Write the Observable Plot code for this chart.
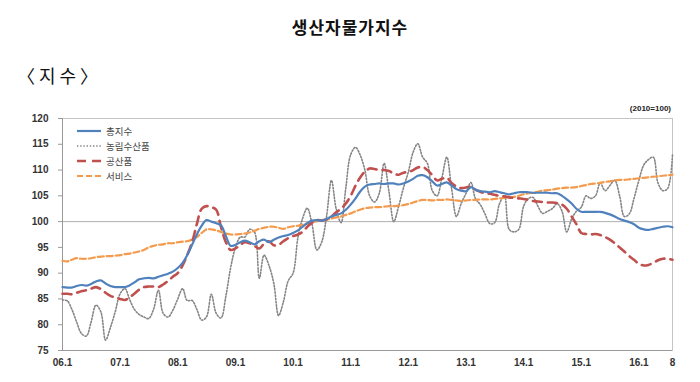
<!DOCTYPE html>
<html>
<head>
<meta charset="utf-8">
<script src="https://cdn.jsdelivr.net/npm/d3@7"></script>
<script src="https://cdn.jsdelivr.net/npm/@observablehq/plot@0.6"></script>
<style>
  html, body { margin: 0; padding: 0; background: #fff; }
  #wrap { position: relative; width: 700px; height: 382px; overflow: hidden; }
  .title { position: absolute; left: 0; width: 700px; top: 14px; text-align: center; font: 700 17px "Noto Sans CJK KR"; color: #111; letter-spacing: 1px; }
  .sub { position: absolute; left: 17px; top: 62px; font: 400 18px "Noto Sans CJK KR"; color: #111; letter-spacing: 4px; }
  .unit { position: absolute; right: 29px; top: 104px; font: 700 8px "Liberation Sans"; color: #222; }
  #chart { position: absolute; left: 0; top: 100px; }
  .legend { position: absolute; left: 77px; top: 123px; font: 400 9.5px "Noto Sans CJK KR"; color: #444; }
  .legend div { height: 15px; display: flex; align-items: center; }
  .legend svg { margin-right: 5px; }
</style>
</head>
<body>
<div id="wrap">
  <div class="title">생산자물가지수</div>
  <div class="sub">〈지수〉</div>
  <div id="chart"></div>
  <div class="unit">(2010=100)</div>
  <div class="legend" id="legend"></div>
</div>
<script>
// Series names
const seriesNames = ["총지수", "농림수산품", "공산품", "서비스"];
// Monthly, 2006.1 – 2016.8
const startYear = 2006, startMonth = 0, nMonths = 128;

const total = [
  87.3, 87.2, 87.2, 87.5, 87.7, 87.6, 87.9, 88.4, 88.6, 88.0, 87.5, 87.3,
  87.3, 87.3, 87.6, 88.2, 88.8, 89.0, 89.1, 89.0, 89.3, 89.6, 89.9, 90.3,
  91.0, 92.0, 93.5, 95.5, 97.5, 99.2, 100.3, 100.0, 99.7, 99.3, 97.2, 95.3,
  95.5, 96.0, 96.3, 96.0, 95.6, 96.2, 96.5, 96.0, 96.5, 96.9, 97.2, 97.4,
  97.8, 98.3, 99.0, 99.7, 100.2, 100.3, 100.2, 100.5, 101.0, 101.3, 101.6, 102.3,
  103.3, 104.5, 105.8, 106.8, 107.2, 107.3, 107.4, 107.3, 107.4, 107.4, 107.2, 107.4,
  107.8, 108.3, 108.9, 109.0, 108.6, 107.8, 107.0, 107.3, 107.6, 107.0, 106.3, 106.0,
  105.9, 106.7, 106.2, 105.9, 105.8, 105.7, 105.9, 105.7, 105.5, 105.3, 105.5, 105.7,
  105.7, 105.7, 105.6, 105.6, 105.6, 105.6, 105.5, 105.5, 105.0, 104.3, 103.5, 102.5,
  101.9, 101.9, 101.9, 101.9, 101.9, 101.7, 101.4, 101.0, 100.5, 100.2, 99.9, 99.5,
  98.8, 98.5, 98.4, 98.6, 98.8, 99.0, 99.1, 98.9
];
const agri = [
  84.8, 84.6, 83.0, 80.5, 78.3, 77.8, 80.5, 83.8, 82.5, 77.0, 79.5, 82.5,
  86.0, 87.0, 85.0, 83.0, 82.0, 81.5, 81.2, 83.0, 86.7, 82.2, 81.5, 82.8,
  85.0, 87.0, 84.7, 84.7, 83.0, 80.9, 81.5, 85.9, 82.2, 81.3, 85.5, 91.0,
  95.0, 97.0, 97.0, 98.5, 98.0, 89.0, 93.5, 91.5, 88.0, 81.8, 84.5, 88.5,
  90.0, 97.0, 100.5, 102.6, 99.5, 94.5, 96.0, 101.0, 108.0, 102.5, 99.8, 106.5,
  113.0, 114.4, 113.0, 110.0, 105.0, 103.8, 105.5, 111.3, 105.7, 100.0, 103.0, 106.5,
  109.6, 113.5, 115.1, 112.5, 111.3, 106.0, 105.0, 108.5, 112.5, 106.5, 101.0, 103.5,
  105.5, 107.6, 104.5, 103.3, 101.5, 99.6, 99.8, 103.5, 105.0, 98.5, 98.0, 98.5,
  103.0, 104.5, 104.7, 103.0, 101.6, 102.0, 102.5, 103.5, 102.0, 98.0, 100.5, 102.0,
  102.8, 105.0, 104.5, 105.0, 107.5, 106.0, 107.0, 108.0, 105.0, 101.0, 101.5, 104.5,
  108.0, 111.0, 112.0, 112.5, 107.5, 106.0, 106.4, 113.0
];
const industrial = [
  86.0, 86.0, 85.9, 86.2, 86.5, 86.7, 87.0, 87.3, 86.9, 86.2, 85.6, 85.3,
  85.0, 84.8, 85.3, 86.0, 86.8, 87.3, 87.4, 87.4, 87.3, 87.8, 88.5, 89.3,
  90.0, 91.5, 93.5, 96.0, 99.5, 102.5, 103.0, 102.8, 102.3, 99.0, 96.0, 94.5,
  94.8, 95.5, 96.0, 95.8, 95.3, 94.8, 95.7, 96.2, 95.4, 95.5, 96.2, 96.8,
  97.2, 97.5, 98.0, 99.0, 99.8, 100.3, 100.2, 100.4, 101.0, 101.8, 102.5, 103.5,
  105.0, 107.0, 108.5, 109.7, 110.3, 110.2, 110.0, 110.0, 109.8, 109.3, 109.1, 109.5,
  109.6, 110.0, 110.5, 110.6, 110.0, 109.0, 108.0, 108.3, 108.5, 107.5, 106.8, 106.5,
  106.6, 106.8, 106.2, 105.8, 105.5, 105.4, 105.2, 105.0, 104.9, 104.7, 104.6, 104.5,
  104.4, 104.2, 104.0, 103.9, 103.8, 103.7, 103.7, 103.6, 103.3, 102.5, 101.0, 99.5,
  97.8, 97.6, 97.5, 97.6, 97.4, 97.0, 96.5, 95.8, 95.0, 94.2, 93.3, 92.6,
  91.8, 91.5, 91.6, 92.0, 92.5, 92.8, 92.8, 92.6
];
const services = [
  92.4, 92.3, 92.6, 92.9, 92.8, 92.8, 92.9, 93.1, 93.2, 93.3, 93.3, 93.4,
  93.5, 93.7, 93.8, 94.0, 94.2, 94.5, 95.0, 95.3, 95.5, 95.6, 95.8, 95.8,
  96.0, 96.1, 96.2, 96.5, 97.0, 97.8, 98.5, 98.5, 98.3, 98.0, 97.7, 97.5,
  97.5, 97.6, 97.7, 97.9, 98.2, 98.6, 98.8, 99.0, 99.0, 98.8, 98.6, 98.9,
  99.1, 99.2, 99.4, 99.6, 99.9, 100.1, 100.3, 100.4, 100.6, 100.8, 101.0, 101.3,
  101.6, 102.0, 102.3, 102.6, 102.7, 102.8, 102.8, 102.9, 103.0, 103.0, 103.1, 103.2,
  103.4, 103.7, 104.0, 104.2, 104.2, 104.1, 104.2, 104.2, 104.3, 104.2, 104.1, 104.0,
  104.1, 104.2, 104.2, 104.3, 104.3, 104.3, 104.4, 104.5, 104.6, 104.7, 104.8, 105.0,
  105.3, 105.5, 105.6, 105.8, 106.0, 106.1, 106.2, 106.4, 106.5, 106.6, 106.6, 106.7,
  106.9, 107.1, 107.3, 107.4, 107.5, 107.7, 107.8, 108.0, 108.1, 108.1, 108.2, 108.3,
  108.4, 108.5, 108.6, 108.7, 108.8, 108.9, 109.0, 109.1
];
const xTickLabels = ["06.1","07.1","08.1","09.1","10.1","11.1","12.1","13.1","14.1","15.1","16.1","8"];
const yTicks = [75, 80, 85, 90, 95, 100, 105, 110, 115, 120];

const months = d3.utcMonth.range(new Date(Date.UTC(startYear, startMonth, 1)), new Date(Date.UTC(startYear, startMonth + nMonths, 1)));
const xTicks = months.filter((d, i) => d.getUTCMonth() === 0 || i === months.length - 1);
const labelOf = new Map(xTicks.map((d, i) => [+d, xTickLabels[i]]));

const styles = {
  "총지수": {stroke: "#4F81BD", strokeWidth: 2.2, dash: null},
  "농림수산품": {stroke: "#858585", strokeWidth: 1.6, dash: "1.4,1.8"},
  "공산품": {stroke: "#C0504D", strokeWidth: 2.6, dash: "9,6"},
  "서비스": {stroke: "#F59A4C", strokeWidth: 2.2, dash: "6,3"}
};
const seriesVals = {"총지수": total, "농림수산품": agri, "공산품": industrial, "서비스": services};
const drawOrder = ["농림수산품", "서비스", "공산품", "총지수"];

const lineMarks = drawOrder.map(name => {
  const s = styles[name];
  const data = months.map((d, i) => ({date: d, value: seriesVals[name][i]}));
  return Plot.line(data, {x: "date", y: "value", stroke: s.stroke, strokeWidth: s.strokeWidth,
    strokeDasharray: s.dash || undefined, curve: "catmull-rom", strokeLinejoin: "round"});
});

const chart = Plot.plot({
  width: 700, height: 270,
  marginLeft: 62, marginRight: 28, marginTop: 18, marginBottom: 20,
  style: {fontFamily: "Liberation Sans", fontSize: "10px", fontWeight: "bold", color: "#333", background: "transparent"},
  x: {type: "utc", domain: [months[0], months[months.length - 1]]},
  y: {domain: [75, 120]},
  marks: [
    Plot.frame({stroke: "#c4c4c4"}),
    Plot.ruleY([100], {stroke: "#b0b0b0", strokeWidth: 1}),
    Plot.axisY({ticks: yTicks, tickSize: 4, tickPadding: 10, label: null, stroke: "#999"}),
    Plot.axisX({ticks: xTicks, tickFormat: d => labelOf.get(+d), tickSize: 0, tickPadding: 8, label: null}),
    Plot.ruleX([months[0]], {stroke: "#999"}),
    Plot.ruleY([75], {stroke: "#999"}),
    ...lineMarks
  ]
});
document.getElementById("chart").appendChild(chart);

// Legend
const legend = document.getElementById("legend");
seriesNames.forEach(name => {
  const s = styles[name];
  const row = document.createElement("div");
  row.innerHTML = `<svg width="24" height="6"><line x1="0" x2="24" y1="3" y2="3" stroke="${s.stroke}" stroke-width="${s.strokeWidth}" ${s.dash ? `stroke-dasharray="${s.dash}"` : ""}/></svg><span>${name}</span>`;
  legend.appendChild(row);
});
</script>
</body>
</html>
